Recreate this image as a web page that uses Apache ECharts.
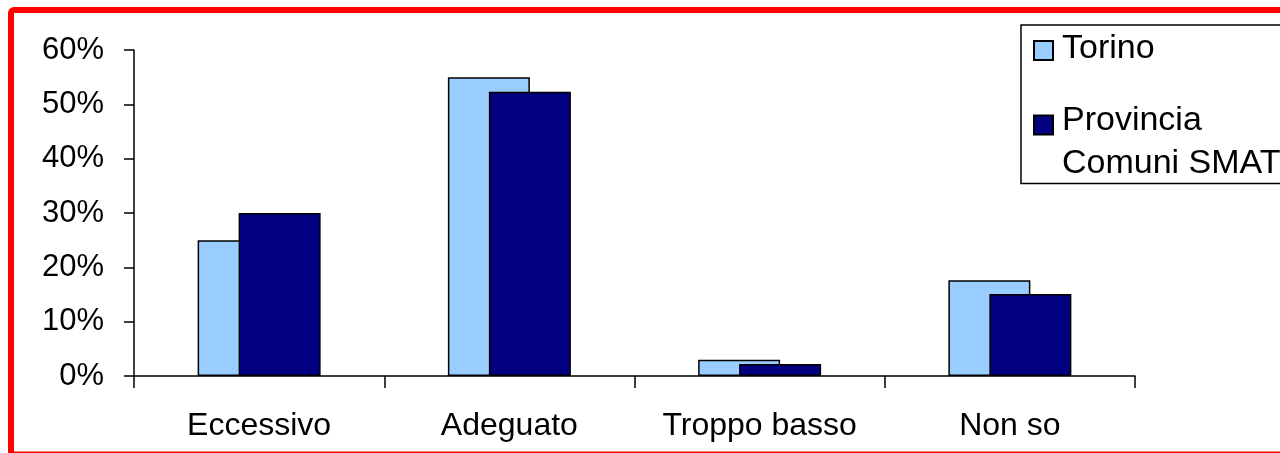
<!DOCTYPE html>
<html>
<head>
<meta charset="utf-8">
<script src="https://cdn.jsdelivr.net/npm/echarts@6/dist/echarts.min.js"></script>
<style>
html,body{margin:0;padding:0;background:#fff;}
#chart{width:1280px;height:453px;}
</style>
</head>
<body>
<div id="chart"></div>
<script>
const categories = ['Eccessivo', 'Adeguato', 'Troppo basso', 'Non so'];
const seriesNames = ['Torino', 'Provincia Comuni SMAT'];
const torino = [25, 55, 3.0, 17.6];
const provincia = [30, 52.3, 2.2, 15.1];
const yTicks = [0, 10, 20, 30, 40, 50, 60];

const FONT = '"Liberation Sans", Arial, sans-serif';
const chart = echarts.init(document.getElementById('chart'), null, {renderer: 'canvas'});

const option = {
  animation: false,
  backgroundColor: '#ffffff',
  grid: {left: 134, right: 145, top: 50, bottom: 77, containLabel: false},
  xAxis: {
    type: 'category',
    data: categories,
    axisLine: {show: true, lineStyle: {color: '#000', width: 1.5}},
    axisTick: {show: true, inside: false, length: 12, alignWithLabel: false, lineStyle: {color: '#000', width: 1.5}},
    axisLabel: {color: '#000', fontFamily: FONT, fontSize: 32, margin: 34, interval: 0}
  },
  yAxis: {
    type: 'value',
    min: yTicks[0],
    max: yTicks[yTicks.length - 1],
    interval: 10,
    splitLine: {show: false},
    axisLine: {show: true, lineStyle: {color: '#000', width: 1.5}},
    axisTick: {show: true, length: 10, lineStyle: {color: '#000', width: 1.5}},
    axisLabel: {color: '#000', fontFamily: FONT, fontSize: 31, margin: 30, formatter: v => v + '%'}
  },
  legend: {
    orient: 'vertical',
    left: 1021,
    top: 25,
    padding: [6.5, 20, 3, 12],
    itemGap: 6,
    itemWidth: 19,
    itemHeight: 19,
    borderColor: '#000',
    borderWidth: 1.5,
    backgroundColor: '#fff',
    icon: 'rect',
    selectedMode: false,
    textStyle: {
      color: '#000', fontFamily: FONT, fontSize: 34,
      rich: {
        a: {color: '#000', fontFamily: FONT, fontSize: 34, lineHeight: 43, padding: [0, 0, 0, 4]},
        s: {fontSize: 4, lineHeight: 4},
        t: {fontSize: 4, lineHeight: 34}
      }
    },
    formatter: name => name === seriesNames[1]
      ? '{t| }\n{a|Provincia}\n{a|Comuni SMAT}'
      : '{a|' + name + '}\n{s| }',
    data: seriesNames
  },
  series: [
    {
      name: seriesNames[0],
      type: 'bar',
      data: torino,
      barWidth: 82,
      barGap: '-50%',
      itemStyle: {color: '#99CCFF', borderColor: '#000', borderWidth: 1.5}
    },
    {
      name: seriesNames[1],
      type: 'bar',
      data: provincia,
      barWidth: 82,
      barGap: '-50%',
      itemStyle: {color: '#000080', borderColor: '#000', borderWidth: 1.5}
    }
  ],
  graphic: [
    {
      type: 'rect',
      shape: {x: 11, y: 10, width: 1300, height: 444.5, r: 3},
      style: {fill: 'none', stroke: '#ff0000', lineWidth: 6},
      silent: true,
      z: 100
    }
  ]
};
chart.setOption(option);
</script>
</body>
</html>
